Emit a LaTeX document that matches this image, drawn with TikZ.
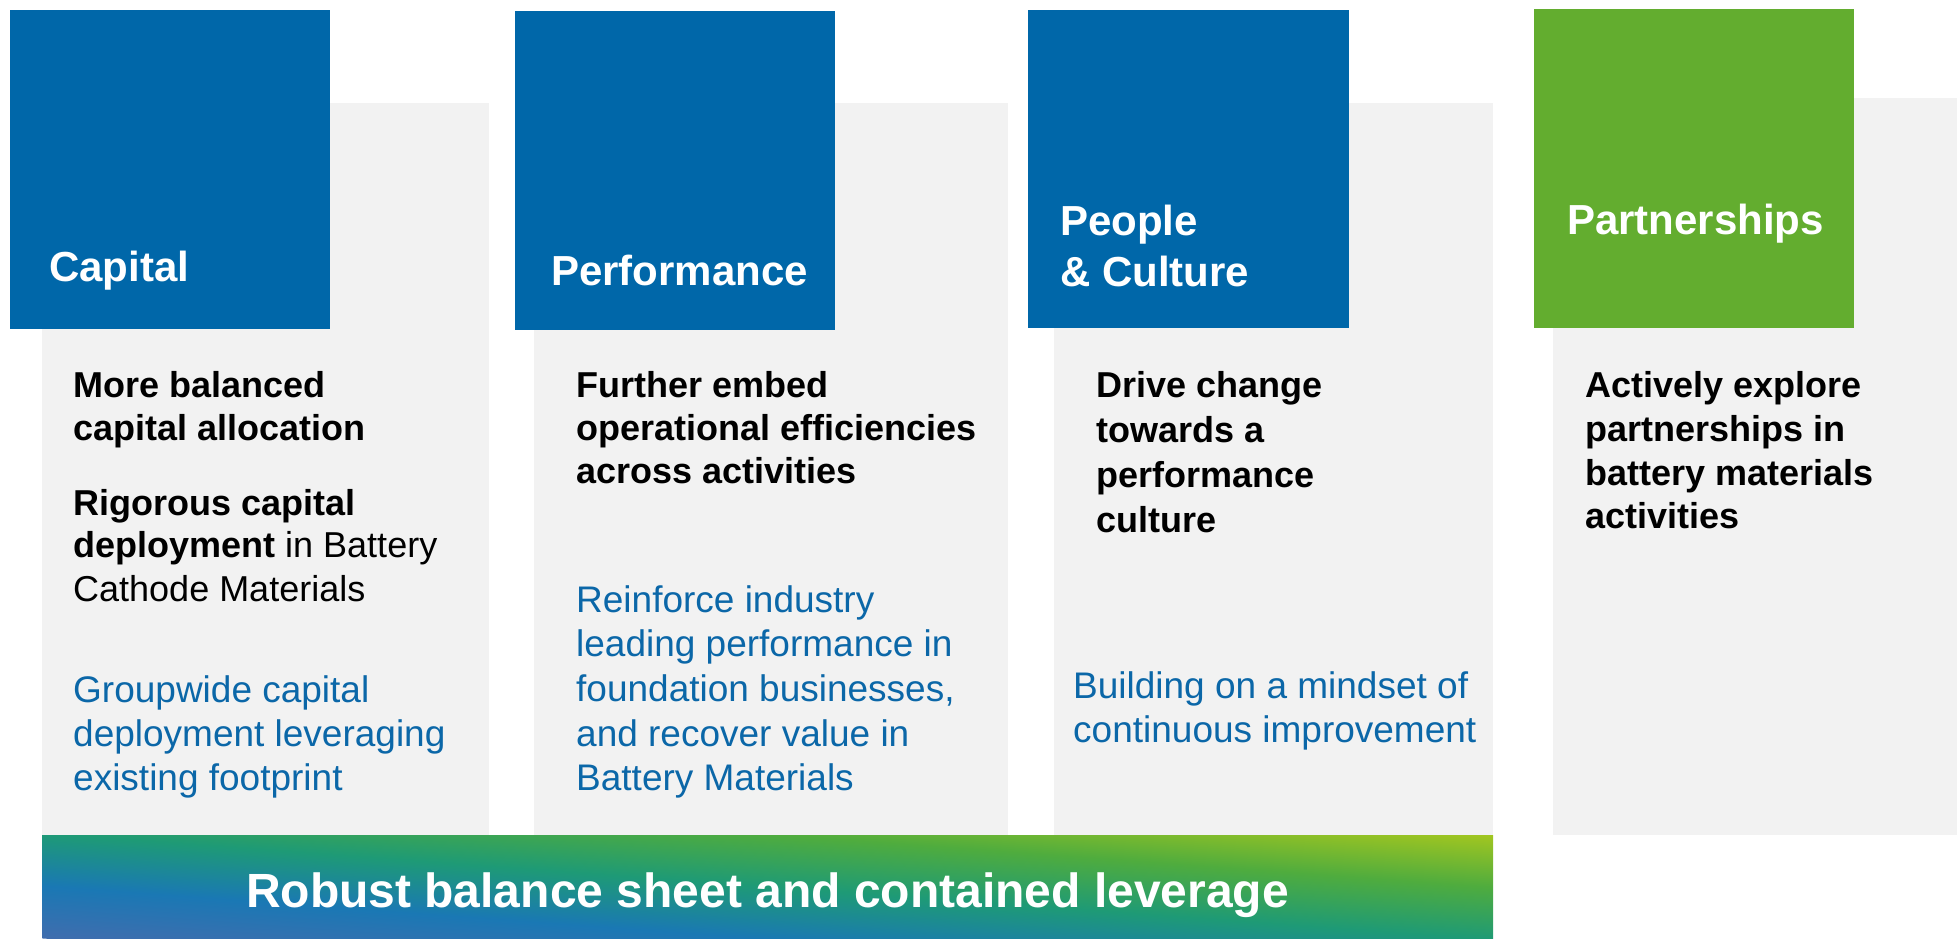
\documentclass[tikz,border=0pt]{standalone}
\usepackage{fontspec}
\setmainfont{Liberation Sans}

\definecolor{tileblue}{HTML}{0067A9}
\definecolor{tilegreen}{HTML}{63AD2F}
\definecolor{panelgrey}{HTML}{F2F2F2}
\definecolor{noteblue}{HTML}{0B67A8}
% colour stops of the foundation bar, bottom-left to top-right
\definecolor{barA}{HTML}{406DAE}
\definecolor{barB}{HTML}{1A78B4}
\definecolor{barC}{HTML}{1E9A76}
\definecolor{barD}{HTML}{4FAC3E}
\definecolor{barE}{HTML}{A2C620}

\pgfdeclareverticalshading{barshade}{100bp}{%
  color(0bp)=(barA); color(25bp)=(barB); color(50bp)=(barC);
  color(75bp)=(barD); color(100bp)=(barE)}

\tikzset{
  headtext/.style={font=\fontsize{42}{50}\selectfont\bfseries, text=white,
    anchor=base west, inner sep=0pt},
  keytext/.style={font=\fontsize{36}{43}\selectfont\bfseries, text=black,
    anchor=base west, inner sep=0pt},
  plaintext/.style={font=\fontsize{36}{43}\selectfont, text=black,
    anchor=base west, inner sep=0pt},
  notetext/.style={font=\fontsize{37}{44}\selectfont, text=noteblue,
    anchor=base west, inner sep=0pt},
  bartext/.style={font=\fontsize{48}{56}\selectfont\bfseries, text=white,
    anchor=base, inner sep=0pt},
}

\begin{document}
\begin{tikzpicture}[x=1pt, y=-1pt]
  \useasboundingbox (0,0) rectangle (1957,938);

  % grey column panels
  \fill[panelgrey] (42,103) rectangle (489,835);
  \fill[panelgrey] (534,103) rectangle (1008,835);
  \fill[panelgrey] (1054,103) rectangle (1493,835);
  \fill[panelgrey] (1553,98) rectangle (1957,835);

  % coloured header tiles
  \fill[tileblue] (10,10) rectangle (330,329);
  \fill[tileblue] (515,11) rectangle (835,330);
  \fill[tileblue] (1028,10) rectangle (1349,328);
  \fill[tilegreen] (1534,9) rectangle (1854,328);

  % foundation bar: a slightly tilted vertical gradient, clipped to the bar
  \begin{scope}
    \clip (42,835) rectangle (1493,938);
    \begin{scope}[shift={(767.5,886.5)}, rotate=-4.2, xscale=16, yscale=2.09]
      \pgflowlevelsynccm
      \pgfuseshading{barshade}
    \end{scope}
  \end{scope}
  \coordinate (barmid) at (767.5,907);
  \node[bartext] (bartitle) at (barmid) {Robust balance sheet and contained leverage};

  % tile titles
  \node[headtext] (capT) at (49,281) {Capital};
  \node[headtext] (perfT) at (551,285) {Performance};
  \node[headtext] (peopT1) at (1060,235) {People};
  \node[headtext] (peopT2) at (1060,286) {\&~Culture};
  \node[headtext] (partT) at (1567,234) {Partnerships};

  % Capital column
  \node[keytext] (cap1) at (73,397) {More balanced};
  \node[keytext] (cap2) at (73,440) {capital allocation};
  \node[keytext] (cap3) at (73,515) {Rigorous capital};
  \node[plaintext] (cap4) at (73,557) {\bfseries deployment\mdseries{} in Battery};
  \node[plaintext] (cap5) at (73,601) {Cathode Materials};
  \node[notetext] (cap6) at (73,702) {Groupwide capital};
  \node[notetext] (cap7) at (73,746) {deployment leveraging};
  \node[notetext] (cap8) at (73,790) {existing footprint};

  % Performance column
  \node[keytext] (perf1) at (576,397) {Further embed};
  \node[keytext] (perf2) at (576,440) {operational efficiencies};
  \node[keytext] (perf3) at (576,483) {across activities};
  \node[notetext] (perf4) at (576,612) {Reinforce industry};
  \node[notetext] (perf5) at (576,656) {leading performance in};
  \node[notetext] (perf6) at (576,701) {foundation businesses,};
  \node[notetext] (perf7) at (576,746) {and recover value in};
  \node[notetext] (perf8) at (576,790) {Battery Materials};

  % People & Culture column
  \node[keytext] (peop1) at (1096,397) {Drive change};
  \node[keytext] (peop2) at (1096,442) {towards a};
  \node[keytext] (peop3) at (1096,487) {performance};
  \node[keytext] (peop4) at (1096,532) {culture};
  \node[notetext] (peop5) at (1073,698) {Building on a mindset of};
  \node[notetext] (peop6) at (1073,742) {continuous improvement};

  % Partnerships column
  \node[keytext] (part1) at (1585,397) {Actively explore};
  \node[keytext] (part2) at (1585,441) {partnerships in};
  \node[keytext] (part3) at (1585,485) {battery materials};
  \node[keytext] (part4) at (1585,528) {activities};
\end{tikzpicture}
\end{document}
